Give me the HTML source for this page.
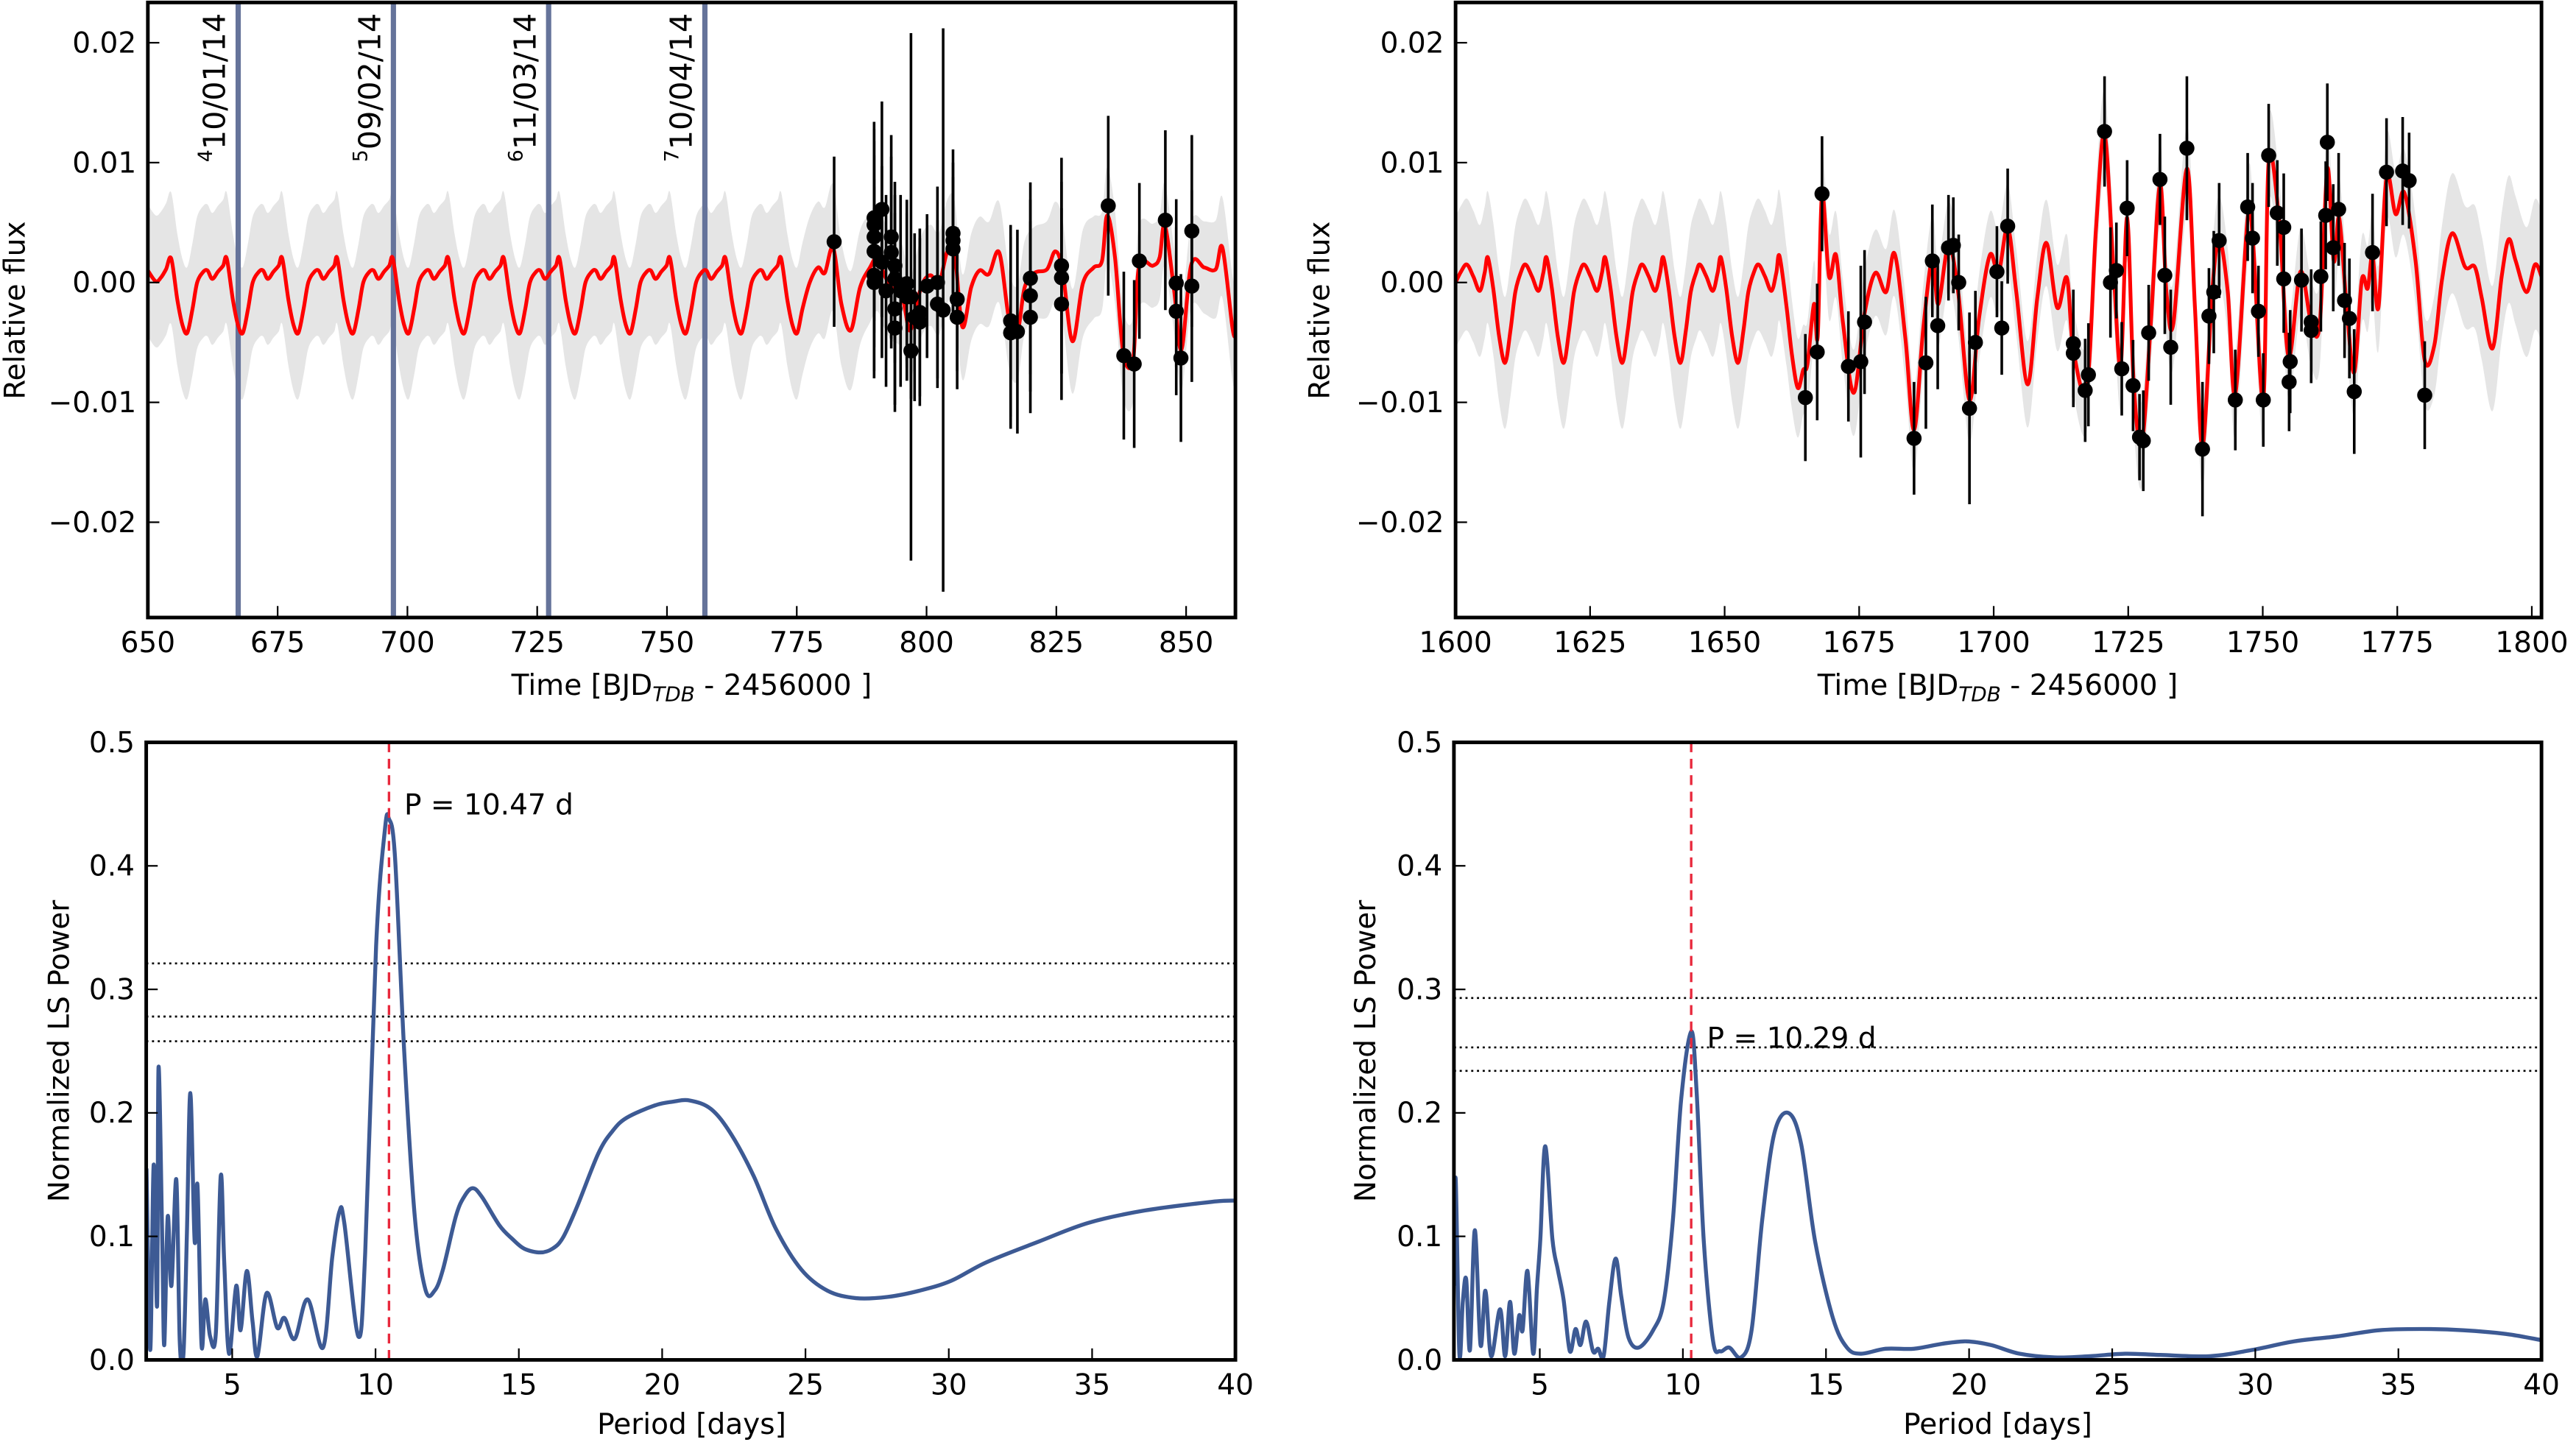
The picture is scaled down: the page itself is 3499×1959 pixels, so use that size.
<!DOCTYPE html>
<html><head><meta charset="utf-8"><style>
html,body{margin:0;padding:0;background:#fff;}
svg{display:block;font-family:"DejaVu Sans","Liberation Sans",sans-serif;}
</style></head><body>
<svg id="fig" xmlns="http://www.w3.org/2000/svg" width="3499" height="1959" viewBox="0 0 1568 878" preserveAspectRatio="none"></svg>
<script>
// ===== Data: top-left light curve =====
const tlCycleOffsets = [0,1.2,2.2,3.1,4.1,5.0,6.2,7.0,7.9,9.0,10.0];
const tlCycleValues = [2.0,-1.5,-3.6,-4.2,-2.2,0.0,0.9,1.0,0.3,0.9,1.4];
const tlPeakTimes = [654.5,665.2,675.9,686.5,697.2,707.9,718.6,729.3,739.9,750.6,761.3];
const tlModelStart = [[650,1.0],[651.5,0.1],[652.5,0.4],[653.5,1.1]];
const tlModelTail = [[772.0,2.0],[773.2,-1.5],[774.2,-3.6],[775.1,-4.2],[776.1,-2.2],[777.5,0.0],[779.1,1.25],[780.4,0.8],[782.0,2.9],[783.6,-1.8],[785.4,-4.0],[787.2,-0.4],[789.1,1.25],[790.5,2.1],[791.8,0.7],[793.2,-0.4],[795.3,-1.2],[796.7,-4.0],[797.8,-2.3],[799.2,-0.1],[800.8,0.6],[802.4,-0.1],[804.0,2.6],[805.4,2.5],[806.9,-3.7],[808.6,-0.4],[810.2,1.0],[812.0,0.7],[814.0,2.5],[815.9,-3.1],[817.5,-4.2],[818.9,-0.4],[820.8,0.8],[823.2,1.1],[824.8,2.6],[826.2,1.0],[828.1,-4.9],[830.1,-0.1],[832.2,1.25],[833.8,1.8],[834.8,5.6],[836.3,2.1],[837.9,-5.9],[839.8,-6.4],[840.9,1.25],[843.6,1.4],[844.9,2.1],[845.9,4.8],[847.7,-0.7],[849.1,-5.6],[851.0,1.5],[853.5,1.25],[855.7,1.1],[857.0,2.9],[858.9,-3.7],[859.5,-4.5]];
const tlSigmaT = [650,780,790,800,810,820,830,840,850,860];
const tlSigmaV = [5.5,5.5,4.5,4.2,4.5,3.8,4.5,3.5,3.5,4.5];
const tlDataT = [782.2,789.9,789.9,789.9,789.9,789.9,789.9,791.4,791.4,792.2,793.2,793.2,793.9,793.9,793.9,793.9,795.0,796.2,796.2,797.0,797.0,797.7,798.7,798.7,800.1,802.1,802.1,803.2,805.1,805.1,805.1,805.9,805.9,816.2,816.2,817.5,820.0,820.0,820.0,826.0,826.0,826.0,835.0,838.0,840.0,841.0,846.0,848.1,848.1,849.0,851.1,851.1];
const tlDataF = [3.4,5.4,4.8,3.8,2.6,0.6,0.0,6.1,1.7,-0.7,3.8,2.5,1.4,0.3,-2.2,-3.8,-0.7,-1.2,-0.1,-1.2,-5.7,-2.9,-2.5,-3.3,-0.3,0.0,-1.8,-2.3,4.1,3.5,2.8,-1.4,-2.9,-3.2,-4.2,-4.1,0.35,-1.1,-2.9,1.4,0.4,-1.8,6.4,-6.1,-6.8,1.8,5.2,-0.05,-2.4,-6.3,4.3,-0.3];
const tlDataE = [7.1,8,8,8,8,8,8,9,8,8,8.5,8,7,7,8,7,8,7,7,22,4,7,7,7,6,8,7,23.5,7,6.5,6,6,6,8,8,8.5,8,8,8,9,8,8,7.5,7,7,6.5,7.5,7,7,7,8,8];
const tlEventT = [667.4,697.3,727.2,757.3];
const tlEventSup = ["4","5","6","7"];
const tlEventLabels = ["10/01/14","09/02/14","11/03/14","10/04/14"];

// ===== Data: top-right light curve =====
const trCycleOffsets = [0,1.2,2.4,3.3,3.9,4.9,6.0,7.1,8.1,9.0,10.0];
const trCycleValues = [1.5,0.5,-0.7,0.8,2.1,-0.5,-4.5,-6.7,-4.0,-0.8,0.8];
const trPeakTimes = [1602.1,1613.0,1623.9,1634.7,1645.4];
const trModelStart = [[1600,0.0],[1601,0.9]];
const trModelTail = [[1656.3,1.5],[1657.5,0.5],[1658.7,-0.7],[1659.6,0.8],[1660.2,2.2],[1661.5,-2],[1662.5,-6],[1663.6,-8.8],[1664.6,-7.3],[1665.4,-6.8],[1666.6,-1.8],[1667.3,-4.5],[1668.1,7.4],[1669.4,0.5],[1670.7,2.3],[1672,-3.4],[1674,-9.2],[1676,-2.6],[1678,0.8],[1680,-0.8],[1681.6,2.4],[1683.6,-4.7],[1685.2,-12.3],[1686.9,-3.9],[1688.6,2.05],[1689.7,-1.8],[1691.6,3.1],[1693.4,-0.8],[1695.5,-9.8],[1697.3,-2.9],[1699.3,2.3],[1700.9,0.8],[1702.6,4.6],[1704.2,-0.8],[1706.3,-8.5],[1708.1,-1.3],[1709.8,3.3],[1711.8,-2.1],[1713.6,0.4],[1714.8,-5.6],[1717.3,-8.8],[1719.0,4.4],[1720.6,12.4],[1722.3,0.8],[1723.6,-7.0],[1724.8,5.4],[1726,-8.3],[1727.5,-13.5],[1729.2,-3.4],[1730.9,8.2],[1732.1,-0.8],[1733.4,-3.4],[1735.9,9.5],[1737.4,-2.1],[1738.8,-13.7],[1740.6,-0.8],[1741.9,3.6],[1743.5,-0.8],[1744.9,-9.3],[1747.2,5.4],[1748.2,3.3],[1750.1,-9.8],[1751.1,10.1],[1753.1,4.9],[1754.8,-6.2],[1757,0.9],[1759,-3.4],[1760.6,-3.4],[1762,9.5],[1763.2,1.8],[1764.2,5.4],[1765.6,-2.1],[1767,-7.5],[1768.4,0.2],[1769.5,-0.5],[1770.4,2.3],[1771.5,-2.1],[1773,8.8],[1774.7,5.7],[1776.3,7.5],[1778.4,1.8],[1780.1,-6.5],[1781.9,-5.2],[1783.3,0.2],[1785.2,4.1],[1787.6,1.3],[1789.4,1.3],[1790.7,-1.3],[1792.7,-5.5],[1794.4,0.5],[1795.7,3.6],[1797,1.8],[1799,-0.8],[1800.6,1.5],[1801.8,0.5]];
const trSigmaT = [1600,1660,1665,1780,1785,1802];
const trSigmaV = [5.5,5.5,3.6,3.6,5.0,5.5];
const trDataT = [1665.0,1667.2,1668.1,1673.0,1675.3,1676.0,1685.2,1687.4,1688.6,1689.6,1691.6,1692.5,1693.5,1695.5,1696.6,1700.6,1701.5,1702.6,1714.8,1714.8,1717.0,1717.6,1720.6,1721.7,1722.8,1723.8,1724.8,1725.9,1727.1,1727.8,1728.8,1730.9,1731.8,1732.9,1735.9,1738.8,1740.0,1740.9,1741.9,1744.9,1747.2,1748.1,1749.2,1750.1,1751.1,1752.7,1753.9,1753.9,1755.1,1754.9,1757.2,1759.0,1759.0,1760.8,1761.7,1762.0,1763.1,1764.1,1765.2,1766.1,1767.0,1770.4,1773.0,1776.0,1777.2,1780.1];
const trDataF = [-9.6,-5.8,7.4,-7.0,-6.6,-3.3,-13.0,-6.7,1.8,-3.6,2.9,3.1,0.0,-10.5,-5.0,0.9,-3.8,4.7,-5.1,-5.9,-9.0,-7.7,12.6,0.0,1.0,-7.2,6.2,-8.6,-12.9,-13.2,-4.2,8.6,0.6,-5.4,11.2,-13.9,-2.8,-0.8,3.5,-9.8,6.3,3.7,-2.4,-9.8,10.6,5.8,4.6,0.3,-6.6,-8.3,0.2,-3.3,-4.0,0.5,5.6,11.7,2.9,6.1,-1.5,-3.0,-9.1,2.5,9.2,9.3,8.5,-9.4];
const trDataE = [5.3,5.7,4.8,4.6,8,6,4.7,5.5,4.7,5.3,4.4,4,4,8,4.3,3.8,3.9,4.8,4.5,4.5,4.3,4.3,4.6,4.6,4,3.9,4,3.8,3.6,4.2,4,3.8,4.9,4.8,6,5.6,4,5.1,4.8,4.2,4.5,4.6,3.8,3.9,4.3,4.4,4.5,4.5,4.3,4.1,4.3,4.4,4.4,4.6,4.5,4.9,5.3,4.7,4.8,5,5.2,4.9,4.5,4.5,4,4.5];

// ===== Data: periodograms =====
const blPeriod = [2.01,2.14,2.26,2.38,2.43,2.56,2.63,2.75,2.88,3.05,3.17,3.30,3.42,3.54,3.69,3.79,3.93,4.06,4.23,4.43,4.60,4.72,4.89,5.14,5.29,5.51,5.71,5.88,6.20,6.57,6.82,7.18,7.63,8.17,8.49,8.74,8.91,9.40,9.64,10.02,10.33,10.47,10.68,11.0,11.37,11.74,12.06,12.35,12.80,13.09,13.39,13.71,14.32,14.77,15.19,15.75,16.17,16.54,17.03,17.77,18.26,18.76,19.74,20.36,20.97,21.71,22.40,23.19,23.97,24.86,25.77,26.76,27.87,28.97,30.08,31.31,33.16,34.88,36.85,39.19,40.0];
const blPower = [0.155,0.008,0.158,0.044,0.237,0.096,0.012,0.116,0.06,0.146,0.015,0.005,0.103,0.216,0.096,0.141,0.012,0.049,0.019,0.022,0.149,0.08,0.005,0.06,0.024,0.072,0.031,0.003,0.054,0.026,0.034,0.017,0.049,0.010,0.083,0.12,0.111,0.019,0.087,0.335,0.43,0.438,0.407,0.25,0.116,0.057,0.056,0.073,0.116,0.132,0.139,0.132,0.109,0.098,0.09,0.087,0.09,0.099,0.124,0.167,0.185,0.196,0.206,0.209,0.21,0.203,0.183,0.149,0.106,0.073,0.056,0.05,0.051,0.056,0.064,0.079,0.096,0.111,0.121,0.128,0.129];
const blFap = [0.321,0.278,0.258];
const blBest = 10.47;
const brPeriod = [2.0,2.06,2.19,2.31,2.43,2.56,2.73,2.93,3.10,3.30,3.61,3.79,3.96,4.11,4.28,4.40,4.57,4.77,4.90,5.02,5.19,5.44,5.63,5.83,6.05,6.25,6.42,6.62,6.86,7.04,7.23,7.43,7.65,7.85,8.10,8.46,8.96,9.33,9.65,9.94,10.29,10.48,10.73,11.05,11.3,11.62,12.03,12.4,12.77,13.19,13.68,14.13,14.62,15.24,15.73,16.22,17.08,18.07,19.05,19.91,20.77,21.76,22.99,24.22,25.45,26.68,28.41,29.88,31.36,32.84,34.32,35.79,37.27,38.75,40.0];
const brPower = [0.06,0.147,0.005,0.047,0.065,0.008,0.105,0.012,0.056,0.003,0.041,0.003,0.047,0.005,0.036,0.024,0.072,0.005,0.058,0.098,0.173,0.098,0.073,0.049,0.007,0.025,0.012,0.031,0.007,0.009,0.003,0.047,0.082,0.051,0.018,0.010,0.024,0.047,0.113,0.211,0.266,0.217,0.096,0.016,0.007,0.010,0.002,0.024,0.113,0.183,0.2,0.175,0.096,0.034,0.010,0.005,0.009,0.009,0.013,0.015,0.012,0.005,0.002,0.003,0.005,0.004,0.003,0.008,0.015,0.019,0.024,0.025,0.024,0.021,0.016];
const brFap = [0.293,0.253,0.234];
const brBest = 10.29;

const fluxTicks = [0.02,0.01,0.00,-0.01,-0.02];
const fluxTickLabels = ["0.02","0.01","0.00","\u22120.01","\u22120.02"];
const tlXTicks = [650,675,700,725,750,775,800,825,850];
const trXTicks = [1600,1625,1650,1675,1700,1725,1750,1775,1800];
const powTicks = [0,0.1,0.2,0.3,0.4,0.5];
const powTickLabels = ["0.0","0.1","0.2","0.3","0.4","0.5"];
const perTicks = [5,10,15,20,25,30,35,40];

// ===== Rendering =====
const NS = "http://www.w3.org/2000/svg";
const svg = document.getElementById('fig');
function mk(tag, attrs, parent){
  const e = document.createElementNS(NS, tag);
  for (const k in attrs) e.setAttribute(k, attrs[k]);
  (parent||svg).appendChild(e);
  return e;
}
function lin(d0,d1,r0,r1){ return v => r0 + (v-d0)/(d1-d0)*(r1-r0); }
function interp(xs, ys, x){
  if (x<=xs[0]) return ys[0];
  for (let i=1;i<xs.length;i++) if (x<=xs[i]) return ys[i-1]+(ys[i]-ys[i-1])*(x-xs[i-1])/(xs[i]-xs[i-1]);
  return ys[ys.length-1];
}
function smooth(pts){
  let d = "M"+pts[0][0].toFixed(2)+","+pts[0][1].toFixed(2);
  for (let i=0;i<pts.length-1;i++){
    const p0=pts[Math.max(0,i-1)], p1=pts[i], p2=pts[i+1], p3=pts[Math.min(pts.length-1,i+2)];
    const c1x=p1[0]+(p2[0]-p0[0])/6, c1y=p1[1]+(p2[1]-p0[1])/6;
    const c2x=p2[0]-(p3[0]-p1[0])/6, c2y=p2[1]-(p3[1]-p1[1])/6;
    d += " C"+c1x.toFixed(2)+","+c1y.toFixed(2)+" "+c2x.toFixed(2)+","+c2y.toFixed(2)+" "+p2[0].toFixed(2)+","+p2[1].toFixed(2);
  }
  return d;
}
function buildModel(start, peaks, offs, vals, tail){
  const m = start.slice();
  peaks.forEach(p => offs.forEach((o,j) => m.push([p+o, vals[j]])));
  return m.concat(tail);
}

function panel(id, box, xd, yd){
  const g = mk('g', {});
  
  
  const cp = mk('clipPath', {id:id+'-clip'}, g);
  mk('rect', {x:box.x0, y:box.y0, width:box.x1-box.x0, height:box.y1-box.y0}, cp);
  const X = lin(xd[0], xd[1], box.x0, box.x1);
  const Y = lin(yd[0], yd[1], box.y1, box.y0);
  const plot = mk('g', {'clip-path':'url(#'+id+'-clip)'}, g);
  return {g, plot, X, Y, box};
}
function frame(P, xt, xl, yt, yl){
  const b = P.box;
  const ticks = mk('g', {}, P.g);
  
  
  xt.forEach((v,i) => {
    const x = P.X(v);
    mk('line', {x1:x, x2:x, y1:b.y1, y2:b.y1-7, stroke:'#000', 'stroke-width':1}, ticks);
    const t = mk('text', {x:x, y:b.y1+21, 'font-size':17.5, 'text-anchor':'middle', fill:'#000'}, ticks);
    
    
    t.textContent = xl[i];
  });
  yt.forEach((v,i) => {
    const y = P.Y(v);
    mk('line', {x1:b.x0, x2:b.x0+7, y1:y, y2:y, stroke:'#000', 'stroke-width':1}, ticks);
    const t = mk('text', {x:b.x0-7, y:y+6, 'font-size':17.5, 'text-anchor':'end', fill:'#000'}, ticks);
    
    
    t.textContent = yl[i];
  });
  const r = mk('rect', {x:b.x0, y:b.y0, width:b.x1-b.x0, height:b.y1-b.y0, fill:'none', stroke:'#000', 'stroke-width':2.2}, P.g);
  
  
}
function label(txt, x, y, rot, name, sub){
  const t = mk('text', {x:x, y:y, 'font-size':17.5, 'text-anchor':'middle', fill:'#000', transform: rot?('rotate(-90 '+x+' '+y+')'):''});
  
  
  if (sub){
    const a = mk('tspan', {}, t); a.textContent = 'Time [BJD';
    const s = mk('tspan', {'font-size':12.5, 'font-style':'italic', dy:4}, t); s.textContent = 'TDB';
    const c = mk('tspan', {dy:-4}, t); c.textContent = ' - 2456000 ]';
  } else t.textContent = txt;
}

function lightCurve(id, box, xd, model, sT, sV, dT, dF, dE){
  const P = panel(id, box, xd, [-0.02795, 0.02336]);
  const mp = model.map(p => [P.X(p[0]), P.Y(p[1]/1000)]);
  const up = model.map(p => [P.X(p[0]), P.Y((p[1]+interp(sT,sV,p[0]))/1000)]);
  const lo = model.map(p => [P.X(p[0]), P.Y((p[1]-interp(sT,sV,p[0]))/1000)]).reverse();
  const band = mk('path', {d: smooth(up) + " L" + smooth(lo).slice(1) + " Z", fill:'#e5e5e5', stroke:'none'}, P.plot);
  
  
  return {P, mp, dT, dF, dE};
}
function drawCurveAndData(L){
  const P = L.P;
  const line = mk('path', {d: smooth(L.mp), fill:'none', stroke:'#ff0000', 'stroke-width':2.3, 'stroke-linejoin':'round'}, P.plot);
  
  
  const pts = mk('g', {}, P.plot);
  
  
  L.dT.forEach((t,i) => {
    const x = P.X(t), f = L.dF[i]/1000, e = L.dE[i]/1000;
    const eb = mk('line', {x1:x, x2:x, y1:P.Y(f+e), y2:P.Y(f-e), stroke:'#000', 'stroke-width':1.6}, pts);
    
    
    const c = mk('circle', {cx:x, cy:P.Y(f), r:4.6, fill:'#000'}, pts);
    
    
  });
}

// Top-left
const TL = lightCurve('top-left-lightcurve', {x0:90,x1:752,y0:1.5,y1:376}, [650,859.5],
  buildModel(tlModelStart, tlPeakTimes, tlCycleOffsets, tlCycleValues, tlModelTail), tlSigmaT, tlSigmaV, tlDataT, tlDataF, tlDataE);
tlEventT.forEach((t,i) => {
  const x = TL.P.X(t);
  const l = mk('line', {x1:x, x2:x, y1:0, y2:376, stroke:'#65739a', 'stroke-width':3.2}, TL.P.plot);
  
  
});
drawCurveAndData(TL);
tlEventT.forEach((t,i) => {
  const x = TL.P.X(t) - 8, y = 8;
  const tx = mk('text', {x:x, y:y, 'font-size':18.5, 'text-anchor':'end', fill:'#000', transform:'rotate(-90 '+x+' '+y+')'});
  
  
  const s = mk('tspan', {'font-size':12, dy:-8}, tx); s.textContent = tlEventSup[i];
  const m = mk('tspan', {dy:8}, tx); m.textContent = tlEventLabels[i];
});
frame(TL.P, tlXTicks, tlXTicks.map(String), fluxTicks, fluxTickLabels);

// Top-right
const TR = lightCurve('top-right-lightcurve', {x0:886,x1:1547,y0:1.5,y1:376}, [1600,1801.8],
  buildModel(trModelStart, trPeakTimes, trCycleOffsets, trCycleValues, trModelTail), trSigmaT, trSigmaV, trDataT, trDataF, trDataE);
drawCurveAndData(TR);
frame(TR.P, trXTicks, trXTicks.map(String), fluxTicks, fluxTickLabels);

// Periodograms
function periodogram(id, box, per, pow, fap, best, txt, tx, ty){
  const P = panel(id, box, [2,40], [0,0.5]);
  fap.forEach(v => {
    const l = mk('line', {x1:box.x0, x2:box.x1, y1:P.Y(v), y2:P.Y(v), stroke:'#000', 'stroke-width':1.2, 'stroke-dasharray':'1.3,2.2'}, P.plot);
    
    
  });
  const pts = per.map((p,i)=>[P.X(p), P.Y(pow[i])]);
  const pl = mk('path', {d: smooth(pts), fill:'none', stroke:'#3d5a94', 'stroke-width':2.4, 'stroke-linejoin':'round'}, P.plot);
  
  
  const bl = mk('line', {x1:P.X(best), x2:P.X(best), y1:box.y0, y2:box.y1, stroke:'#e8283c', 'stroke-width':1.5, 'stroke-dasharray':'6,4'}, P.plot);
  
  
  const t = mk('text', {x:tx, y:ty, 'font-size':17.5, fill:'#000'});
  
  
  t.textContent = txt;
  frame(P, perTicks, perTicks.map(String), powTicks, powTickLabels);
}
periodogram('bottom-left-periodogram', {x0:89,x1:752,y0:452,y1:828}, blPeriod, blPower, blFap, blBest, 'P = 10.47 d', 246, 496);
periodogram('bottom-right-periodogram', {x0:885,x1:1547,y0:452,y1:828}, brPeriod, brPower, brFap, brBest, 'P = 10.29 d', 1039, 638);

label('Relative flux', 15, 189, true, 'y-axis-title');
label('Relative flux', 809, 189, true, 'y-axis-title');
label('', 421, 423, false, 'x-axis-title', true);
label('', 1216, 423, false, 'x-axis-title', true);
label('Normalized LS Power', 42, 640, true, 'y-axis-title');
label('Normalized LS Power', 837, 640, true, 'y-axis-title');
label('Period [days]', 421, 873, false, 'x-axis-title');
label('Period [days]', 1216, 873, false, 'x-axis-title');
</script>
</body></html>
